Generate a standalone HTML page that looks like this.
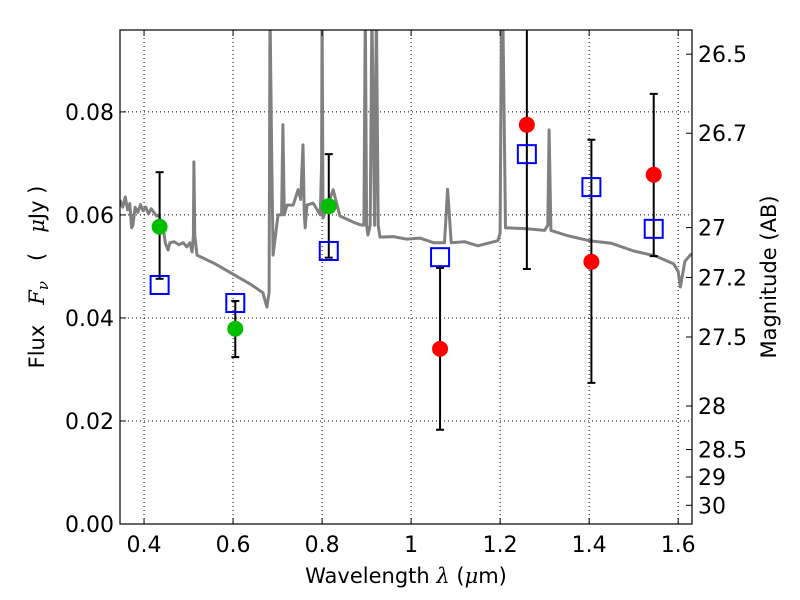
<!DOCTYPE html>
<html><head><meta charset="utf-8"><style>
body{margin:0;background:#fff}
svg text{font-family:"DejaVu Sans","Liberation Sans",sans-serif;fill:#000}
</style></head><body>
<svg id="chart" width="800" height="600" xmlns="http://www.w3.org/2000/svg" style="position:absolute;left:0;top:0"></svg>
<script>
const specW=[0.346,0.352,0.358,0.363,0.368,0.372,0.375,0.38,0.386,0.392,0.398,0.404,0.41,0.416,0.422,0.428,0.433,0.438,0.443,0.448,0.454,0.458,0.468,0.478,0.488,0.496,0.503,0.508,0.511,0.512,0.514,0.519,0.56,0.6,0.64,0.667,0.676,0.681,0.683,0.687,0.690,0.701,0.709,0.712,0.715,0.721,0.735,0.746,0.752,0.757,0.760,0.762,0.766,0.780,0.796,0.799,0.800,0.802,0.825,0.840,0.870,0.885,0.894,0.897,0.900,0.903,0.908,0.912,0.918,0.922,0.926,0.930,0.96,0.99,1.02,1.05,1.075,1.082,1.09,1.12,1.15,1.195,1.2,1.203,1.206,1.212,1.26,1.3,1.307,1.31,1.314,1.35,1.4,1.45,1.5,1.55,1.59,1.6,1.605,1.615,1.63];
const specF=[0.0629,0.0615,0.0635,0.061,0.0622,0.0575,0.058,0.0615,0.0605,0.062,0.0608,0.0615,0.0602,0.0612,0.0605,0.0598,0.06,0.0585,0.0575,0.0545,0.0532,0.0546,0.0548,0.0542,0.0546,0.0538,0.0546,0.0528,0.056,0.0703,0.056,0.0522,0.0505,0.0485,0.0465,0.0449,0.0421,0.045,0.1,0.07,0.0522,0.060,0.06,0.0775,0.06,0.0619,0.0619,0.0649,0.063,0.0736,0.06,0.0575,0.0619,0.0623,0.060,0.07,0.1,0.0594,0.0649,0.0598,0.0586,0.0581,0.058,0.1,0.058,0.0561,0.058,0.1,0.058,0.1,0.058,0.0557,0.0558,0.0553,0.0555,0.0546,0.0546,0.065,0.0546,0.0548,0.054,0.055,0.0565,0.1,0.1,0.0575,0.0573,0.057,0.058,0.0765,0.057,0.056,0.055,0.0545,0.053,0.052,0.0505,0.049,0.046,0.051,0.0525];
const obsW=[0.435,0.605,0.815,1.065,1.26,1.405,1.545];
const obsF=[0.0577,0.0379,0.0617,0.034,0.0775,0.0509,0.0678];
const errLo=[0.0476,0.0324,0.0517,0.0183,0.0495,0.0274,0.052];
const errHi=[0.0683,0.0433,0.0718,0.0497,0.1,0.0746,0.0835];
const modelF=[0.0464,0.0429,0.053,0.0518,0.0718,0.0654,0.0573];
const bandIsGreen=[true,true,true,false,false,false,false];
const xTicks=[0.4,0.6,0.8,1.0,1.2,1.4,1.6];
const xTickLabels=["0.4","0.6","0.8","1","1.2","1.4","1.6"];
const yTicks=[0,0.02,0.04,0.06,0.08];
const yTickLabels=["0.00","0.02","0.04","0.06","0.08"];
const magTicks=[26.5,26.7,27,27.2,27.5,28,28.5,29,30];
const magTickLabels=["26.5","26.7","27","27.2","27.5","28","28.5","29","30"];

const L=120,R=692,T=30,B=524;
const xmin=0.346,xmax=1.631,ymin=0,ymax=0.0959;
const X=w=>L+(w-xmin)/(xmax-xmin)*(R-L);
const Y=v=>B-(v-ymin)/(ymax-ymin)*(B-T);
const magToF=m=>Math.pow(10,(23.9-m)/2.5);
const svg=document.getElementById('chart');
const NS='http://www.w3.org/2000/svg';
function mk(tag,attrs,parent){const e=document.createElementNS(NS,tag);for(const k in attrs)e.setAttribute(k,attrs[k]);(parent||svg).appendChild(e);return e;}

const defs=mk('defs',{});const cp=mk('clipPath',{id:'clip'},defs);mk('rect',{x:L,y:T,width:R-L,height:B-T},cp);

xTicks.forEach((t,i)=>{const g=mk('line',{x1:X(t),x2:X(t),y1:T,y2:B,stroke:'#000','stroke-dasharray':'1,3','stroke-width':1});

});
yTicks.forEach((t,i)=>{const g=mk('line',{x1:L,x2:R,y1:Y(t),y2:Y(t),stroke:'#000','stroke-dasharray':'1,3','stroke-width':1});

});

const pts=specW.map((w,i)=>X(w).toFixed(1)+','+Y(specF[i]).toFixed(1)).join(' ');
const sp=mk('polyline',{points:pts,fill:'none',stroke:'#808080','stroke-width':3,'clip-path':'url(#clip)','stroke-linejoin':'round'});



obsW.forEach((w,i)=>{const g=mk('g',{'clip-path':'url(#clip)',stroke:'#000','stroke-width':2});


const x=X(w);mk('line',{x1:x,x2:x,y1:Y(errLo[i]),y2:Y(errHi[i])},g);
mk('line',{x1:x-4,x2:x+4,y1:Y(errLo[i]),y2:Y(errLo[i])},g);
mk('line',{x1:x-4,x2:x+4,y1:Y(errHi[i]),y2:Y(errHi[i])},g);});

obsW.forEach((w,i)=>{const r=mk('rect',{x:X(w)-9,y:Y(modelF[i])-9,width:18,height:18,fill:'none',stroke:'#0000ff','stroke-width':2});

});

obsW.forEach((w,i)=>{const c=mk('circle',{cx:X(w),cy:Y(obsF[i]),r:8,fill:bandIsGreen[i]?'#00bf00':'#ff0000'});

});

const fr=mk('rect',{x:L,y:T,width:R-L,height:B-T,fill:'none',stroke:'#000','stroke-width':1.2});



xTicks.forEach((t,i)=>{const x=X(t);
mk('line',{x1:x,x2:x,y1:B,y2:B-6,stroke:'#000'});mk('line',{x1:x,x2:x,y1:T,y2:T+6,stroke:'#000'});
const tx=mk('text',{x:x,y:B+28,'text-anchor':'middle','font-size':22});tx.textContent=xTickLabels[i];

});
yTicks.forEach((t,i)=>{const y=Y(t);
mk('line',{x1:L,x2:L+6,y1:y,y2:y,stroke:'#000'});
const tx=mk('text',{x:L-6,y:y+8,'text-anchor':'end','font-size':22});tx.textContent=yTickLabels[i];

});
magTicks.forEach((m,i)=>{const y=Y(magToF(m));
mk('line',{x1:R,x2:R-6,y1:y,y2:y,stroke:'#000'});
const tx=mk('text',{x:R+6,y:y+8,'text-anchor':'start','font-size':22});tx.textContent=magTickLabels[i];

});
</script>
<svg style="position:absolute;left:0;top:0" width="800" height="600" xmlns="http://www.w3.org/2000/svg">
<text x="406" y="583" text-anchor="middle" font-size="21" font-family="DejaVu Sans, sans-serif">Wavelength  <tspan font-style="italic" font-family="DejaVu Serif, serif">λ</tspan> (<tspan font-style="italic" font-family="DejaVu Serif, serif">μ</tspan>m)</text>
<text transform="translate(44,277) rotate(-90)" text-anchor="middle" font-size="21" font-family="DejaVu Sans, sans-serif" xml:space="preserve">Flux   <tspan font-style="italic" font-family="DejaVu Serif, serif">F<tspan font-size="15" dy="4">ν</tspan></tspan><tspan dy="-4">   (   </tspan><tspan font-style="italic" font-family="DejaVu Serif, serif">μ</tspan>Jy )</text>
<text transform="translate(776,277) rotate(-90)" text-anchor="middle" font-size="21" font-family="DejaVu Sans, sans-serif">Magnitude (AB)</text>
</svg>
</body></html>
